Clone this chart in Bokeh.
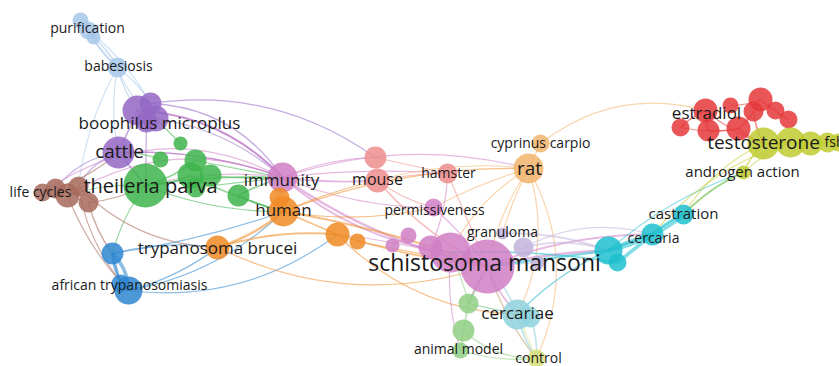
from bokeh.plotting import figure
from bokeh.models import ColumnDataSource, Range1d
from bokeh.core.properties import value
from bokeh.embed import file_html
from bokeh.resources import INLINE

# ---------------- data ----------------
cluster_colors = {
    "red": "#e5383b", "green": "#3db44b", "blue": "#2e86d0", "olive": "#bfcb30",
    "purple": "#9467c4", "cyan": "#1fbfcf", "orange": "#f08a24", "brown": "#a86a5c",
    "pink": "#d07fc6", "lred": "#ef8d8d", "lorange": "#f2b46c", "lblue": "#a7c8ea",
    "lgreen": "#8fd084", "lcyan": "#8fd2de", "lavender": "#c2b3dc", "lyellow": "#d6df78",
}

node_ids = ["pur1", "pur2", "pur3", "bab",
            "bo1", "bo2", "bo3", "bo4", "cat",
            "tp", "g1", "g2", "g3", "g4", "g5", "g6", "g7",
            "lc1", "lc2", "lc3", "lc4", "lc5",
            "imm", "hum2", "hum", "tb", "o3", "o4",
            "bl1", "at2", "at",
            "mo1", "mo", "ham", "rat", "cyp", "perm",
            "p1", "p2", "p3", "sm1", "sm",
            "gran", "gran2", "gran3",
            "cy1", "cy2", "cerc", "cast",
            "cae", "cae2", "lg1", "lg2", "am", "ctl",
            "r1", "est", "r3", "r4", "r5", "r6", "r7", "r8", "r9",
            "te", "ol2", "ol3", "ol4", "fsh", "and"]
node_labels = ["", "purification", "", "babesiosis",
               "", "", "", "boophilus microplus", "cattle",
               "theileria parva", "", "", "", "", "", "", "",
               "life cycles", "", "", "", "",
               "immunity", "", "human", "trypanosoma brucei", "", "",
               "", "", "african trypanosomiasis",
               "", "mouse", "hamster", "rat", "cyprinus carpio", "permissiveness",
               "", "", "", "", "schistosoma mansoni",
               "granuloma", "", "",
               "", "", "cercaria", "castration",
               "cercariae", "", "", "", "animal model", "control",
               "", "estradiol", "", "", "", "", "", "", "",
               "testosterone", "", "", "", "fsh", "androgen action"]
node_x = [80, 88, 93, 117,
          137, 150, 155, 146, 118,
          145, 180, 160, 195, 190, 210, 195, 238,
          42, 55, 67, 78, 88,
          282, 279, 283, 217, 337, 357,
          112, 120, 128,
          375, 377, 447, 528, 540, 433,
          392, 408, 430, 450, 487,
          502, 523, 537,
          608, 617, 652, 683,
          517, 530, 468, 463, 460, 536,
          680, 705, 708, 730, 738, 760, 753, 775, 788,
          763, 790, 810, 827, 838, 743]
node_y = [20, 30, 37, 67,
          110, 103, 118, 121, 152,
          185, 143, 159, 160, 175, 175, 187, 195,
          192, 188, 195, 186, 202,
          177, 197, 211, 247, 234, 241,
          253, 283, 290,
          157, 180, 173, 168, 143, 207,
          245, 235, 247, 252, 266,
          233, 247, 262,
          250, 262, 234, 214,
          314, 317, 303, 330, 350, 358,
          127, 110, 130, 105, 128, 99, 111, 110, 119,
          143, 142, 143, 142, 142, 172]
node_weight = [8, 9, 7, 10,
               15, 11, 13, 11, 16,
               22, 7, 8, 11, 13, 11, 10, 11,
               9, 10, 12, 10, 10,
               15, 10, 15, 12, 12, 8,
               11, 9, 14,
               11, 12, 10, 15, 9, 9,
               7, 8, 12, 20, 27,
               6, 10, 7,
               14, 9, 11, 10,
               15, 10, 10, 11, 8, 9,
               9, 12, 11, 8, 12, 12, 10, 9, 9,
               16, 15, 12, 10, 9, 7]
node_cluster = ["lblue", "lblue", "lblue", "lblue",
                "purple", "purple", "purple", "purple", "purple",
                "green", "green", "green", "green", "green", "green", "green", "green",
                "brown", "brown", "brown", "brown", "brown",
                "pink", "orange", "orange", "orange", "orange", "orange",
                "blue", "blue", "blue",
                "lred", "lred", "lred", "lorange", "lorange", "pink",
                "pink", "pink", "pink", "pink", "pink",
                "lavender", "lavender", "lavender",
                "cyan", "cyan", "cyan", "cyan",
                "lcyan", "lcyan", "lgreen", "lgreen", "lgreen", "lyellow",
                "red", "red", "red", "red", "red", "red", "red", "red", "red",
                "olive", "olive", "olive", "olive", "olive", "olive"]
label_size = [0, 14, 0, 14,
              0, 0, 0, 17, 19,
              20, 0, 0, 0, 0, 0, 0, 0,
              14, 0, 0, 0, 0,
              17, 0, 17, 17, 0, 0,
              0, 0, 14,
              0, 16, 14, 19, 14, 14,
              0, 0, 0, 0, 23,
              14, 0, 0,
              0, 0, 14, 15,
              17, 0, 0, 0, 14, 14,
              0, 17, 0, 0, 0, 0, 0, 0, 0,
              19, 0, 0, 0, 14, 15]
label_x = [0, 87, 0, 118, 0, 0, 0, 159, 119, 150, 0, 0, 0, 0, 0, 0, 0,
           40, 0, 0, 0, 0, 281, 0, 283, 217, 0, 0, 0, 0, 129,
           0, 377, 448, 529, 540, 434, 0, 0, 0, 0, 484, 502, 0, 0,
           0, 0, 653, 683, 517, 0, 0, 0, 458, 538,
           0, 706, 0, 0, 0, 0, 0, 0, 0, 763, 0, 0, 0, 834, 742]
label_y = [0, 27, 0, 65, 0, 0, 0, 122, 150, 185, 0, 0, 0, 0, 0, 0, 0,
           191, 0, 0, 0, 0, 179, 0, 209, 247, 0, 0, 0, 0, 284,
           0, 178, 172, 167, 142, 209, 0, 0, 0, 0, 261, 231, 0, 0,
           0, 0, 237, 212, 312, 0, 0, 0, 348, 357,
           0, 112, 0, 0, 0, 0, 0, 0, 0, 141, 0, 0, 0, 141, 170]

edge_src = ["pur2", "pur3", "pur1", "bab", "bab", "bab", "bab", "pur2", "bab",
            "bo1", "bo2", "bo3", "bo2", "cat", "cat", "cat", "bo1", "bo4", "cat",
            "imm", "imm", "imm", "imm", "imm", "imm", "imm", "imm", "imm", "imm", "imm", "imm",
            "tp", "g3", "g4", "g7", "tp", "tp", "tp", "g1", "g6", "tp", "tp", "g7", "g5", "g2",
            "lc5", "lc4", "lc3", "lc5", "lc4", "lc2",
            "at", "at", "at2", "at", "bl1", "at", "at", "bl1",
            "tb", "tb", "hum", "hum", "hum", "tb", "o3", "o4", "hum", "o3", "hum2", "hum",
            "mo", "mo1", "mo", "ham", "mo",
            "rat", "rat", "cyp", "rat", "rat", "rat", "rat", "rat", "rat",
            "sm", "sm", "sm", "sm", "sm", "sm1", "sm", "p1", "sm", "p3",
            "gran", "gran2", "gran2", "gran3",
            "cy1", "cy1", "cy2", "cerc", "cerc", "cast", "cy1", "cy1", "cy1", "cy2",
            "cae", "cae", "cae", "cae", "cae2",
            "lg1", "lg1", "lg2", "lg1", "lg2", "am", "lg1",
            "ctl", "ctl",
            "est", "est", "r3", "r5", "r6", "r8", "r5", "r7", "est", "r1", "r4", "r6",
            "te", "ol2", "ol3", "ol4", "te", "ol2", "and", "te", "ol2"]
edge_tgt = ["bab", "bab", "bab", "bo1", "bo2", "bo3", "cat", "bo2", "lc4",
            "imm", "imm", "imm", "mo1", "imm", "lc2", "lc4", "cat", "tp", "tp",
            "lc3", "cat", "bo1", "mo1", "mo", "sm", "sm1", "rat", "perm", "ham", "tp", "lc1",
            "imm", "imm", "hum", "hum", "lc3", "g3", "g4", "bo3", "imm", "hum", "bl1", "imm", "imm", "cat",
            "bl1", "at", "at", "tp", "tb", "cat",
            "bl1", "bl1", "bl1", "tb", "tb", "hum", "o3", "hum",
            "hum", "o3", "o3", "sm", "rat", "sm", "sm", "sm", "mo", "cae", "imm", "perm",
            "sm", "ham", "ham", "sm", "perm",
            "sm", "cyp", "est", "cae", "gran", "perm", "mo", "sm1", "ctl",
            "cae", "lg1", "ctl", "cy1", "perm", "am", "cerc", "p2", "o3", "ham",
            "cy1", "cy1", "cerc", "sm",
            "cerc", "cerc", "cerc", "cast", "cast", "and", "and", "cae", "sm", "sm1",
            "sm", "ctl", "lg1", "cy1", "ctl",
            "sm", "lg2", "am", "cae", "ctl", "ctl", "sm1",
            "sm", "cae",
            "r1", "r3", "r5", "r7", "r8", "r9", "te", "te", "te", "r5", "r6", "r7",
            "ol2", "ol3", "ol4", "fsh", "and", "and", "cast", "cast", "cerc"]
edge_weight = [1.5, 1.5, 1, 1.2, 1, 1, 1, 1, 1,
               1.5, 1.2, 1, 1, 1, 1, 1, 1.5, 1, 1.5,
               1, 1, 1.5, 1, 1.5, 2, 1.5, 1, 1, 1, 1, 1,
               1.5, 1, 1.5, 1.5, 1, 1.5, 1.5, 1, 1, 1, 1, 1.5, 1, 1,
               1.2, 1, 1, 1, 1, 1,
               3, 2, 2, 1.2, 1, 1, 1, 1,
               2, 1.5, 1.5, 1.5, 1, 1, 1.5, 1, 1, 1, 1, 1,
               1.5, 1, 1, 1, 1,
               1, 1, 1, 1, 1, 1, 1, 1, 1,
               1.5, 1.5, 1, 2, 1, 1, 1.5, 1, 1, 1,
               1.5, 1.5, 1, 1,
               4, 3, 3, 4, 2, 1.5, 1, 1, 2, 1.5,
               1.5, 1.5, 1, 1, 1.5,
               1.5, 1.5, 1.5, 1, 1, 1, 1,
               1, 1,
               1.5, 1.5, 1.5, 1.5, 1.5, 1.5, 1.5, 1.5, 1, 1, 1, 1,
               2, 2, 2, 2, 1.5, 1, 1.5, 1, 1]
edge_bend = [0.1, -0.1, 0.05, 0.1, -0.1, 0.15, 0.1, -0.1, 0.1,
             -0.2, -0.25, -0.15, -0.2, -0.1, 0.2, 0.2, 0, 0, 0,
             0.25, 0.1, 0.2, -0.1, 0.05, 0.1, 0.15, -0.15, 0.1, -0.05, 0.1, 0.3,
             -0.05, 0, 0.05, 0.05, 0.1, 0.1, 0.1, 0, 0, 0.1, 0.1, -0.05, 0.05, 0.1,
             0.1, 0.15, 0.1, 0.1, 0.2, 0.1,
             0.2, -0.2, 0, 0.1, -0.1, 0.15, 0.2, 0.05,
             0.1, -0.1, 0, -0.05, -0.1, 0.2, 0.05, 0, -0.05, 0.2, 0, 0.1,
             0.1, 0, -0.05, 0, 0.1,
             0.1, 0, -0.25, -0.2, 0.05, 0.05, 0.1, 0.15, -0.25,
             0.1, 0.05, 0.1, -0.05, 0.05, 0.1, -0.1, 0, 0.05, 0.1,
             -0.1, -0.15, -0.2, 0,
             0.05, -0.05, 0, 0.05, -0.1, -0.1, -0.1, 0.1, 0, 0.05,
             0.1, 0.1, 0, -0.1, -0.1,
             0, 0, 0, 0, 0.2, 0.1, 0.05,
             -0.1, 0,
             0.1, 0.1, 0.1, 0.1, 0.1, 0.1, 0.1, 0.1, 0.1, 0.1, 0.1, 0.1,
             0, 0, 0, 0, 0.1, 0.1, 0.1, 0.15, 0.15]

# ---------------- build ----------------
idx = {n: i for i, n in enumerate(node_ids)}

ex0, ey0, ex1, ey1, ecx, ecy, ecol, ew = [], [], [], [], [], [], [], []
for s, t, w, b in zip(edge_src, edge_tgt, edge_weight, edge_bend):
    i, j = idx[s], idx[t]
    x0, y0, x1, y1 = node_x[i], node_y[i], node_x[j], node_y[j]
    dx, dy = x1 - x0, y1 - y0
    ex0.append(x0); ey0.append(y0); ex1.append(x1); ey1.append(y1)
    ecx.append((x0 + x1) / 2 - b * dy)
    ecy.append((y0 + y1) / 2 + b * dx)
    ecol.append(cluster_colors[node_cluster[i]])
    ew.append(w * 1.2)

edges = ColumnDataSource(dict(x0=ex0, y0=ey0, x1=ex1, y1=ey1, cx=ecx, cy=ecy, color=ecol, w=ew))
nodes = ColumnDataSource(dict(x=node_x, y=node_y, r=node_weight,
                              color=[cluster_colors[c] for c in node_cluster]))

lab = [(l, x, y, f"{s}px") for l, x, y, s in zip(node_labels, label_x, label_y, label_size) if l]
labels = ColumnDataSource(dict(text=[a[0] for a in lab], x=[a[1] for a in lab],
                               y=[a[2] for a in lab], size=[a[3] for a in lab]))

p = figure(width=839, height=366, x_range=Range1d(0, 839), y_range=Range1d(366, 0),
           x_axis_type=None, y_axis_type=None, output_backend="svg",
           toolbar_location=None, min_border=0)
p.grid.visible = False
p.outline_line_color = None
p.background_fill_color = "white"

p.quadratic(x0="x0", y0="y0", x1="x1", y1="y1", cx="cx", cy="cy",
            line_color="color", line_width="w", line_alpha=0.55, source=edges)
p.circle(x="x", y="y", radius="r", fill_color="color", fill_alpha=0.85,
         line_color=None, source=nodes)
p.text(x="x", y="y", text="text", text_font=value("Open Sans"), text_font_size="size",
       text_align="center", text_baseline="middle", text_color="#1a1a1a", source=labels)

open("out.html", "w").write(file_html(p, INLINE))
